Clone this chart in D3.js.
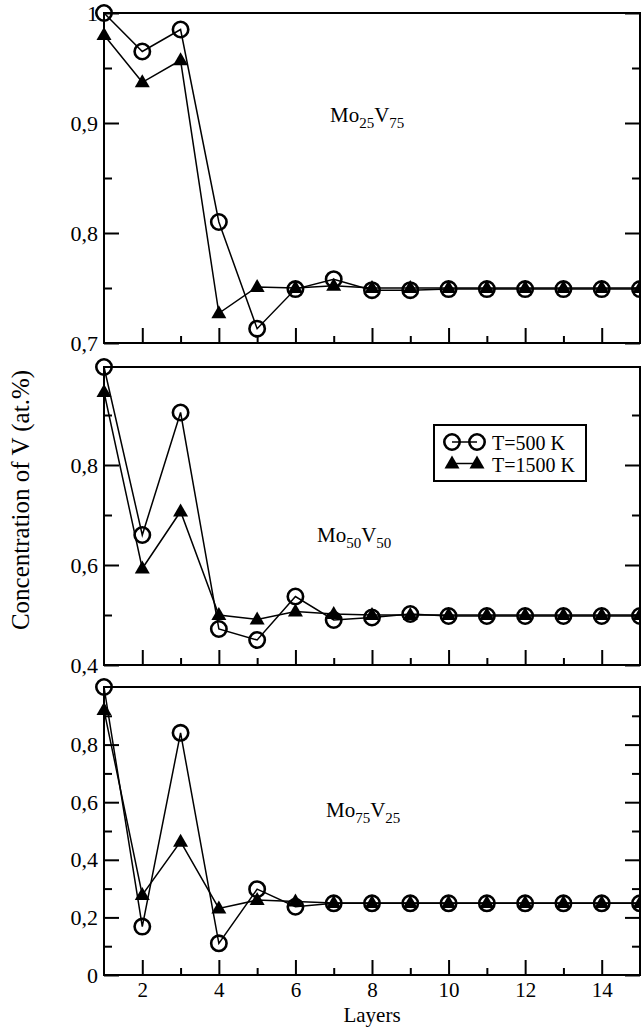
<!DOCTYPE html>
<html>
<head>
<meta charset="utf-8">
<script src="https://cdn.jsdelivr.net/npm/d3@7"></script>
<style>
  body { margin: 0; background: #fff; }
  svg { display: block; }
  svg text { font-family: "Liberation Serif", "Times New Roman", serif; }
</style>
</head>
<body>
<div id="chart"></div>
<script>
// Data
const layers = [1, 2, 3, 4, 5, 6, 7, 8, 9, 10, 11, 12, 13, 14, 15];

const mo25v75_500  = [1.0, 0.965, 0.985, 0.810, 0.713, 0.749, 0.758, 0.748, 0.748, 0.749, 0.749, 0.749, 0.749, 0.749, 0.749];
const mo25v75_1500 = [0.980, 0.937, 0.957, 0.727, 0.751, 0.750, 0.752, 0.750, 0.750, 0.750, 0.750, 0.750, 0.750, 0.750, 0.750];

const mo50v50_500  = [0.996, 0.660, 0.905, 0.472, 0.450, 0.537, 0.490, 0.495, 0.502, 0.498, 0.498, 0.498, 0.498, 0.498, 0.498];
const mo50v50_1500 = [0.946, 0.593, 0.707, 0.500, 0.491, 0.507, 0.502, 0.500, 0.500, 0.500, 0.500, 0.500, 0.500, 0.500, 0.500];

const mo75v25_500  = [1.0, 0.168, 0.841, 0.110, 0.298, 0.237, 0.249, 0.249, 0.249, 0.249, 0.249, 0.249, 0.249, 0.249, 0.249];
const mo75v25_1500 = [0.920, 0.278, 0.463, 0.231, 0.260, 0.255, 0.250, 0.250, 0.250, 0.250, 0.250, 0.250, 0.250, 0.250, 0.250];

const xMajor = [2, 4, 6, 8, 10, 12, 14];
const xMinor = [3, 5, 7, 9, 11, 13];

const yMajor1 = [0.7, 0.8, 0.9, 1.0], yMinor1 = [0.75, 0.85, 0.95];
const yMajor2 = [0.4, 0.6, 0.8],      yMinor2 = [0.5, 0.7, 0.9];
const yMajor3 = [0, 0.2, 0.4, 0.6, 0.8], yMinor3 = [0.1, 0.3, 0.5, 0.7, 0.9];

const legendLabels = ["T=500 K", "T=1500 K"];

// Chart setup
const width = 641, height = 1027;
const left = 104, right = 640;
const serif = "'Liberation Serif', 'Times New Roman', serif";

const svg = d3.select("#chart")
    .append("svg")
    .attr("width", width)
    .attr("height", height);

const x = d3.scaleLinear().domain([1, 15]).range([left, right]);

const panels = [
    { top: 13, bottom: 343, domain: [0.7, 1.0], major: yMajor1, minor: yMinor1,
      s500: mo25v75_500, s1500: mo25v75_1500, sub: ["25", "75"], lx: 330, ly: 122 },
    { top: 367, bottom: 665, domain: [0.4, 0.996], major: yMajor2, minor: yMinor2,
      s500: mo50v50_500, s1500: mo50v50_1500, sub: ["50", "50"], lx: 317, ly: 542, legend: true },
    { top: 687, bottom: 975, domain: [0, 1.0], major: yMajor3, minor: yMinor3,
      s500: mo75v25_500, s1500: mo75v25_1500, sub: ["75", "25"], lx: 326, ly: 817, xLabels: true }
];

const fmt = d => d === 0 ? "0" : (d === 1 ? "1" : d3.format(".1f")(d).replace(".", ","));
const triangle = "M0,-8L7.5,5L-7.5,5Z";

function styleAxis(g, size) {
    g.select(".domain").remove();
    g.selectAll("line").attr("stroke", "#000").attr("stroke-width", 2);
    g.selectAll("text").attr("fill", "#000").style("font-size", (size || 22) + "px")
        .style("font-family", serif);
}

panels.forEach(p => {
    const y = d3.scaleLinear().domain(p.domain).range([p.bottom, p.top]);
    const g = svg.append("g");

    // left axis (ticks inward)
    g.append("g").attr("transform", `translate(${left},0)`)
        .call(d3.axisLeft(y).tickValues(p.major).tickSize(-15).tickSizeOuter(0).tickPadding(6).tickFormat(fmt))
        .call(styleAxis);
    g.append("g").attr("transform", `translate(${left},0)`)
        .call(d3.axisLeft(y).tickValues(p.minor).tickSize(-8).tickSizeOuter(0).tickFormat(""))
        .call(styleAxis);

    // right axis
    g.append("g").attr("transform", `translate(${right},0)`)
        .call(d3.axisRight(y).tickValues(p.major).tickSize(-15).tickSizeOuter(0).tickFormat(""))
        .call(styleAxis);
    g.append("g").attr("transform", `translate(${right},0)`)
        .call(d3.axisRight(y).tickValues(p.minor).tickSize(-8).tickSizeOuter(0).tickFormat(""))
        .call(styleAxis);

    // bottom axis
    g.append("g").attr("transform", `translate(0,${p.bottom})`)
        .call(d3.axisBottom(x).tickValues(xMajor).tickSize(-15).tickSizeOuter(0).tickPadding(7)
            .tickFormat(p.xLabels ? d3.format("d") : ""))
        .call(g => styleAxis(g, 21));
    g.append("g").attr("transform", `translate(0,${p.bottom})`)
        .call(d3.axisBottom(x).tickValues(xMinor).tickSize(-7).tickSizeOuter(0).tickFormat(""))
        .call(styleAxis);

    // frame
    g.append("rect")
        .attr("x", left).attr("y", p.top)
        .attr("width", right - left).attr("height", p.bottom - p.top)
        .attr("fill", "none").attr("stroke", "#000").attr("stroke-width", 2);

    const line = d3.line().x((d, i) => x(layers[i])).y(d => y(d));

    // T=500 K: open circles
    g.append("path").datum(p.s500)
        .attr("fill", "none").attr("stroke", "#000").attr("stroke-width", 1.5)
        .attr("d", line);
    g.selectAll(".c500").data(p.s500).enter().append("circle")
        .attr("cx", (d, i) => x(layers[i]))
        .attr("cy", d => y(d))
        .attr("r", 7.7)
        .attr("fill", "none").attr("stroke", "#000").attr("stroke-width", 2.6);

    // T=1500 K: filled triangles
    g.append("path").datum(p.s1500)
        .attr("fill", "none").attr("stroke", "#000").attr("stroke-width", 1.5)
        .attr("d", line);
    g.selectAll(".t1500").data(p.s1500).enter().append("path")
        .attr("d", triangle)
        .attr("transform", (d, i) => `translate(${x(layers[i])},${y(d)})`)
        .attr("fill", "#000");

    // composition label
    const t = g.append("text")
        .attr("x", p.lx).attr("y", p.ly)
        .style("font-family", serif)
        .style("font-size", "21px").attr("fill", "#000");
    t.append("tspan").text("Mo");
    t.append("tspan").attr("dy", 6).style("font-size", "15px").text(p.sub[0]);
    t.append("tspan").attr("dy", -6).text("V");
    t.append("tspan").attr("dy", 6).style("font-size", "15px").text(p.sub[1]);

    if (p.legend) {
        const lg = g.append("g");
        lg.append("rect")
            .attr("x", 434).attr("y", 425).attr("width", 152).attr("height", 56)
            .attr("fill", "#fff").attr("stroke", "#000").attr("stroke-width", 2);
        legendLabels.forEach((lab, i) => {
            const cy = 442 + i * 21.5;
            lg.append("line").attr("x1", 452).attr("x2", 477).attr("y1", cy).attr("y2", cy)
                .attr("stroke", "#000").attr("stroke-width", 1.5);
            [452, 477].forEach(cx => {
                if (i === 0) {
                    lg.append("circle").attr("cx", cx).attr("cy", cy).attr("r", 7.7)
                        .attr("fill", "none").attr("stroke", "#000").attr("stroke-width", 2.6);
                } else {
                    lg.append("path").attr("d", triangle)
                        .attr("transform", `translate(${cx},${cy})`).attr("fill", "#000");
                }
            });
            lg.append("text").attr("x", 492).attr("y", cy + 8)
                .style("font-family", serif)
                .style("font-size", "20px").attr("fill", "#000").text(lab);
        });
    }
});

// axis titles
svg.append("text")
    .attr("x", 372).attr("y", 1022)
    .attr("text-anchor", "middle")
    .style("font-family", serif)
    .style("font-size", "21px")
    .text("Layers");

svg.append("text")
    .attr("transform", "translate(29,500) rotate(-90)")
    .attr("text-anchor", "middle")
    .style("font-family", serif)
    .style("font-size", "25px")
    .text("Concentration of V (at.%)");
</script>
</body>
</html>
